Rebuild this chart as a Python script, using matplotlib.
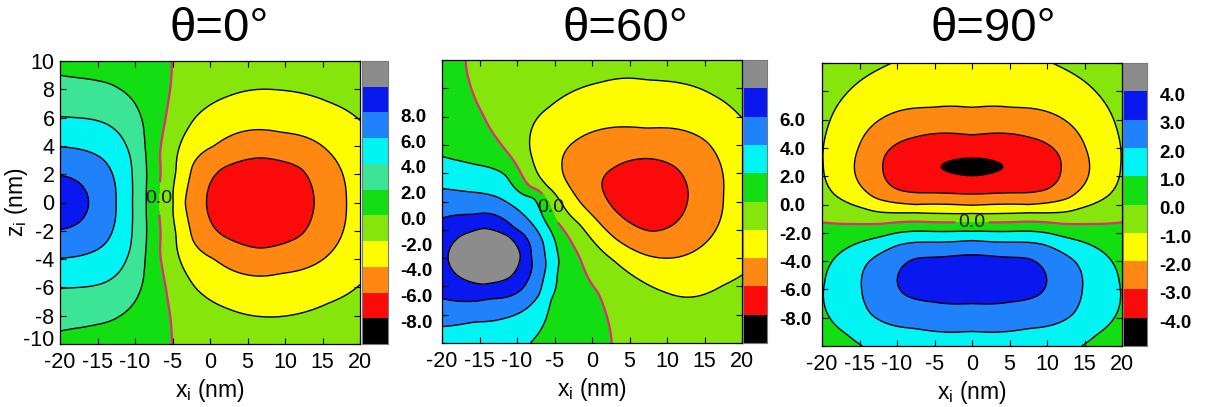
import numpy as np
import matplotlib
matplotlib.use("Agg")
import matplotlib.pyplot as plt
from matplotlib.colors import ListedColormap, BoundaryNorm
from matplotlib.transforms import ScaledTranslation

plt.rcParams.update({
    "font.family": ["Liberation Sans", "DejaVu Sans"],
    "axes.unicode_minus": False,
    "mathtext.default": "regular",
    "contour.negative_linestyle": "solid",
})

# ---------------------------------------------------------------------------
# Field samples (x_i, z_i, value) for each tilt angle: points on the contour
# lines, plus the peak values and a few edge values.
# ---------------------------------------------------------------------------
theta0_samples = [
    (-20.0, 0.0, 9.2), (6.7, 0.0, -7.2),
    (-20.0, 1.9, 8), (-18.2, 1.65, 8), (-16.8, 1.0, 8), (-16.2, 0.0, 8),
    (-16.8, -1.0, 8), (-18.2, -1.65, 8), (-20.0, -1.9, 8),
    (-20.0, 3.94, 6), (-16.0, 3.55, 6), (-13.6, 2.65, 6), (-12.6, 1.2, 6), (-12.5, 0.0, 6),
    (-12.6, -1.2, 6), (-13.6, -2.65, 6), (-16.0, -3.55, 6), (-20.0, -3.94, 6),
    (-20.0, 6.07, 4), (-14.0, 5.6, 4), (-11.8, 4.65, 4), (-10.6, 3.2, 4), (-10.35, 0.0, 4),
    (-10.6, -3.2, 4), (-11.8, -4.7, 4), (-14.0, -5.65, 4), (-20.0, -6.07, 4),
    (-20.0, 9.0, 2), (-15.0, 8.6, 2), (-12.0, 8.0, 2), (-10.0, 7.0, 2), (-8.9, 5.5, 2),
    (-8.5, 3.0, 2), (-8.45, 0.0, 2), (-8.5, -3.0, 2), (-8.9, -5.5, 2), (-10.0, -7.0, 2),
    (-12.0, -8.0, 2), (-15.0, -8.6, 2), (-20.0, -9.1, 2),
    (-5.1, 10.0, 0), (-5.3, 8.0, 0), (-6.0, 5.7, 0), (-6.7, 3.4, 0), (-7.0, 0.0, 0),
    (-6.7, -3.4, 0), (-6.0, -5.7, 0), (-5.3, -8.0, 0), (-5.1, -10.0, 0),
    (-4.8, 0.0, -2), (-4.5, 2.2, -2), (-3.6, 4.6, -2), (-2.0, 6.0, -2), (2.4, 7.5, -2),
    (9.1, 7.95, -2), (15.8, 7.1, -2), (20.0, 5.8, -2), (-4.5, -2.2, -2), (-3.6, -4.6, -2),
    (-2.0, -6.0, -2), (2.4, -7.5, -2), (7.0, -8.07, -2), (15.8, -7.1, -2), (20.0, -5.8, -2),
    (-3.4, 0.0, -4), (-2.4, 2.6, -4), (0.5, 3.95, -4), (4.9, 5.07, -4), (9.5, 4.95, -4),
    (15.8, 3.6, -4), (18.2, 0.0, -4), (15.8, -3.7, -4), (9.5, -5.0, -4), (4.9, -5.1, -4),
    (0.5, -3.95, -4), (-2.4, -2.6, -4),
    (-0.44, 0.0, -6), (1.56, 2.4, -6), (6.7, 3.17, -6), (12.2, 2.4, -6), (13.9, 0.0, -6),
    (12.2, -2.3, -6), (6.7, -3.24, -6), (1.56, -2.3, -6),
    (-20.0, 10.0, 1.5), (-12.0, 10.0, 1.3), (-20.0, -10.0, 1.5), (-12.0, -10.0, 1.3),
    (0.0, 10.0, -0.8), (8.0, 10.0, -1.3), (20.0, 10.0, -1.0), (0.0, -10.0, -0.8),
    (8.0, -10.0, -1.3), (20.0, -10.0, -1.0), (20.0, 0.0, -3.2),
]

theta60_samples = [
    (-14.3, -3.9, 9.0), (7.0, 0.5, -7.2),
    (-19.16, -3.8, 8), (-17.5, -2.4, 8), (-14.5, -1.85, 8), (-11.0, -2.4, 8), (-9.37, -3.8, 8),
    (-11.0, -5.4, 8), (-14.5, -5.9, 8), (-17.5, -5.4, 8),
    (-20.0, -1.19, 6), (-15.8, -0.95, 6), (-10.5, -1.9, 6), (-8.27, -3.8, 6), (-8.7, -5.67, 6),
    (-13.6, -6.84, 6), (-20.0, -6.84, 6),
    (-20.0, 0.93, 4), (-13.6, 0.46, 4), (-9.16, -0.95, 4), (-6.5, -2.84, 4), (-6.04, -4.5, 4),
    (-6.93, -6.6, 4), (-11.37, -8.2, 4), (-15.8, -8.5, 4), (-20.0, -8.85, 4),
    (-20.0, 3.17, 2), (-15.5, 2.6, 2), (-11.4, 1.87, 2), (-7.6, 0.4, 2), (-5.6, -1.9, 2),
    (-4.7, -3.43, 2), (-4.7, -5.0, 2), (-5.6, -6.96, 2), (-8.27, -10.0, 2),
    (-16.93, 10.0, 0), (-14.49, 6.11, 0), (-11.37, 3.52, 0), (-8.27, 0.93, 0), (-4.8, -1.4, 0),
    (-1.6, -3.95, 0), (0.85, -6.4, 0), (2.63, -10.0, 0),
    (-5.6, 6.7, -2), (-8.27, 3.64, -2), (-6.04, 1.05, -2), (-1.6, -1.6, -2), (2.84, -4.13, -2),
    (6.4, -5.55, -2), (9.5, -6.35, -2), (17.5, -5.9, -2), (20.0, -5.2, -2), (20.0, 5.88, -2),
    (16.2, 7.5, -2), (7.3, 8.59, -2), (1.0, 8.4, -2),
    (-3.96, 2.46, -4), (-2.04, 4.35, -4), (7.29, 5.17, -4), (15.3, 4.23, -4), (17.5, 0.46, -4),
    (15.3, -2.84, -4), (9.5, -4.0, -4), (3.3, -2.7, -4), (-1.2, -0.3, -4),
    (1.29, 1.17, -6), (2.84, 2.34, -6), (7.29, 3.05, -6), (11.3, 2.34, -6), (12.84, 0.5, -6),
    (11.3, -1.43, -6), (7.73, -2.1, -6), (2.84, -0.5, -6),
    (-20.0, 10.0, 1.0), (-20.0, -10.0, 3.0), (-13.0, -10.0, 3.0), (-3.0, -10.0, 1.0),
    (10.0, -10.0, -1.2), (20.0, -10.0, -1.0), (20.0, 10.0, -1.0), (-8.0, 10.0, -0.8),
    (5.0, 10.0, -1.6), (20.0, 0.5, -3.2),
]

theta90_samples = [
    (0.0, 2.64, -4.15), (0.0, -5.24, 3.7),
    (-4.3, 2.64, -4), (-1.4, 3.25, -4), (1.4, 3.25, -4), (4.3, 2.64, -4), (1.4, 2.08, -4),
    (-1.4, 2.08, -4),
    (0.0, 4.9, -3), (-7.6, 4.75, -3), (7.6, 4.75, -3), (-11.6, 3.5, -3), (11.6, 3.5, -3),
    (-11.8, 2.32, -3), (11.8, 2.32, -3), (-9.83, 1.02, -3), (9.83, 1.02, -3),
    (-3.16, 0.79, -3), (3.16, 0.79, -3), (0.0, 0.76, -3),
    (0.0, 6.85, -2), (-5.4, 6.85, -2), (5.4, 6.85, -2), (-12.0, 6.09, -2), (12.0, 6.09, -2),
    (-15.16, 3.97, -2), (15.16, 3.97, -2), (-15.6, 2.2, -2), (15.6, 2.2, -2),
    (-12.93, 0.44, -2), (12.93, 0.44, -2), (-7.6, -0.04, -2), (7.6, -0.04, -2), (0.0, -0.1, -2),
    (-10.7, 10.0, -1), (10.7, 10.0, -1), (-16.5, 7.97, -1), (16.5, 7.97, -1),
    (-19.4, 5.15, -1), (19.4, 5.15, -1), (-19.8, 2.79, -1), (19.8, 2.79, -1),
    (-18.3, 0.67, -1), (18.3, 0.67, -1), (-14.3, -0.27, -1), (14.3, -0.27, -1),
    (-7.6, -0.55, -1), (7.6, -0.55, -1), (0.0, -0.6, -1),
    (-20.0, -1.25, 0), (-10.0, -1.25, 0), (0.0, -1.25, 0), (10.0, -1.25, 0), (20.0, -1.25, 0),
    (0.0, -1.92, 1), (-12.04, -2.27, 1), (12.04, -2.27, 1), (-17.4, -3.34, 1), (17.4, -3.34, 1),
    (-19.6, -5.46, 1), (19.6, -5.46, 1), (-19.2, -7.81, 1), (19.2, -7.81, 1),
    (-16.5, -9.22, 1), (16.5, -9.22, 1), (-14.6, -10.0, 1), (14.6, -10.0, 1),
    (0.0, -2.51, 2), (-9.83, -2.86, 2), (9.83, -2.86, 2), (-13.8, -4.04, 2), (13.8, -4.04, 2),
    (-14.7, -5.92, 2), (14.7, -5.92, 2), (-13.4, -7.81, 2), (13.4, -7.81, 2),
    (-7.6, -8.75, 2), (7.6, -8.75, 2), (0.0, -8.95, 2),
    (0.0, -3.57, 3), (-7.6, -3.8, 3), (7.6, -3.8, 3), (-9.83, -4.98, 3), (9.83, -4.98, 3),
    (-8.93, -6.4, 3), (8.93, -6.4, 3), (-5.37, -6.87, 3), (5.37, -6.87, 3), (0.0, -6.98, 3),
    (-20.0, 10.0, -0.5), (20.0, 10.0, -0.5), (0.0, 10.0, -1.5),
    (-20.0, -10.0, 0.6), (20.0, -10.0, 0.6), (0.0, -10.0, 1.6),
]

titles = ["\u03b8=0\u00b0", "\u03b8=60\u00b0", "\u03b8=90\u00b0"]

levels_0 = [-8, -6, -4, -2, 0, 2, 4, 6, 8, 10]
levels_60 = [-8, -6, -4, -2, 0, 2, 4, 6, 8]
levels_90 = [-4, -3, -2, -1, 0, 1, 2, 3, 4]

ticks_0 = [-8, -6, -4, -2, 0, 2, 4, 6, 8]
ticks_60 = [-8, -6, -4, -2, 0, 2, 4, 6]
ticks_90 = [-4, -3, -2, -1, 0, 1, 2, 3, 4]

# band colours from the lowest band to the highest
BLACK, RED, ORANGE, YELLOW = "#000000", "#fb0a0a", "#ff8812", "#fdfd00"
LGREEN, GREEN, MINT, CYAN = "#86e60c", "#12de12", "#3ce596", "#00f4f4"
MBLUE, BLUE, GRAY = "#1f82fa", "#0818ee", "#8c8c8c"
bands_0 = [BLACK, RED, ORANGE, YELLOW, LGREEN, GREEN, MINT, CYAN, MBLUE, BLUE, GRAY]
bands_60 = [BLACK, RED, ORANGE, YELLOW, LGREEN, GREEN, CYAN, MBLUE, BLUE, GRAY]
bands_90 = [BLACK, RED, ORANGE, YELLOW, LGREEN, GREEN, CYAN, MBLUE, BLUE, GRAY]

ZERO_COLOR = "#e8287a"


def smooth_field(samples, gx, gz, stretch=1.887, smooth=1.5):
    """Smoothing thin-plate spline surface through the (x, z, value) samples."""
    s = np.asarray(samples, dtype=float)
    sx, sz, sv = s[:, 0], s[:, 1] * stretch, s[:, 2]
    n = len(sv)

    def kern(r):
        return np.where(r > 0, r * r * np.log(np.maximum(r, 1e-12)), 0.0)

    r = np.hypot(sx[:, None] - sx[None, :], sz[:, None] - sz[None, :])
    A = np.zeros((n + 3, n + 3))
    A[:n, :n] = kern(r) + smooth * np.eye(n)
    P = np.column_stack([np.ones(n), sx, sz])
    A[:n, n:] = P
    A[n:, :n] = P.T
    coef = np.linalg.solve(A, np.concatenate([sv, np.zeros(3)]))
    w, a = coef[:n], coef[n:]
    X, Z = np.meshgrid(gx, gz * stretch)
    F = a[0] + a[1] * X + a[2] * Z
    for xi, zi, wi in zip(sx, sz, w):
        F += wi * kern(np.hypot(X - xi, Z - zi))
    return F


W, H = 1214, 407
fig = plt.figure(figsize=(W / 100, H / 100), dpi=100)


def px_axes(left, top, right, bottom):
    return fig.add_axes([left / W, 1 - bottom / H, (right - left) / W, (bottom - top) / H])


panels = [
    dict(samples=theta0_samples, levels=levels_0, bands=bands_0, ticks=ticks_0,
         box=(60, 61, 360, 344), cbox=(362, 61, 388, 344), label_at=(-7.0, 0.3),
         title_x=219, show_y=True),
    dict(samples=theta60_samples, levels=levels_60, bands=bands_60, ticks=ticks_60,
         box=(442, 60, 742, 343), cbox=(743, 60, 767, 343), label_at=(-6.0, -0.55),
         title_x=625, show_y=False),
    dict(samples=theta90_samples, levels=levels_90, bands=bands_90, ticks=ticks_90,
         box=(822, 63, 1122, 346), cbox=(1123, 63, 1147, 346), label_at=(0.0, -1.25),
         title_x=993, show_y=False),
]

gx = np.linspace(-20, 20, 321)
gz = np.linspace(-10, 10, 161)

for p, title in zip(panels, titles):
    ax = px_axes(*p["box"])
    F = smooth_field(p["samples"], gx, gz)
    lv = p["levels"]
    ax.contourf(gx, gz, F, levels=[-1e3] + lv + [1e3], colors=p["bands"])
    ax.contour(gx, gz, F, levels=[v for v in lv if v != 0], colors="k",
               linewidths=1.0, linestyles="solid")
    cs0 = ax.contour(gx, gz, F, levels=[0], colors=ZERO_COLOR, linewidths=1.6)
    labels = ax.clabel(cs0, fmt={0: "0.0"}, manual=[p["label_at"]], inline=True,
                       inline_spacing=3, fontsize=14, colors="#1a1a1a")
    for t in labels:
        t.set_rotation(0)

    ax.set_xlim(-20, 20)
    ax.set_ylim(-10, 10)
    ax.set_xticks(range(-20, 21, 5))
    ax.set_yticks(range(-10, 11, 2))
    ax.tick_params(direction="in", top=True, right=True, length=4, width=0.8,
                   labelsize=15.5)
    ax.tick_params(axis="x", pad=5.5)
    ax.tick_params(axis="y", pad=4)
    for sp in ax.spines.values():
        sp.set_linewidth(0.9)
    ax.set_xlabel("$x_i$ (nm)", fontsize=16.5)
    ax.xaxis.set_label_coords(0.5, -0.117)
    ax.xaxis.label.set_va("top")
    if p["show_y"]:
        ax.set_ylabel("$z_i$ (nm)", fontsize=16.5)
        ax.yaxis.set_label_coords(-0.10, 0.5)
        # lift the lowest z label a little so it clears the first x label
        low = ax.yaxis.get_major_ticks()[0].label1
        low.set_transform(low.get_transform()
                          + ScaledTranslation(0, 6 / 100, fig.dpi_scale_trans))
    else:
        ax.tick_params(labelleft=False)

    # colour bar: one equal-height band per colour, labels just under the band edges
    cax = px_axes(*p["cbox"])
    nb = len(p["bands"])
    cax.pcolormesh([0, 1], np.arange(nb + 1), np.arange(nb).reshape(-1, 1),
                   cmap=ListedColormap(p["bands"]),
                   norm=BoundaryNorm(np.arange(nb + 1) - 0.5, nb), shading="flat")
    cax.set_xlim(0, 1)
    cax.set_ylim(0, nb)
    cax.set_xticks([])
    cax.yaxis.tick_right()
    cax.set_yticks([lv.index(v) + 1 - 0.12 for v in p["ticks"]])
    cax.set_yticklabels([f"{v:.1f}" for v in p["ticks"]], fontweight="bold", fontsize=13.5)
    cax.tick_params(axis="y", length=0, pad=9)
    for sp in cax.spines.values():
        sp.set_color("#7a7a7a")
        sp.set_linewidth(0.8)

    fig.text(p["title_x"] / W, 1 - 41 / H, title, ha="center", va="baseline", fontsize=34)

fig.savefig("out.png", dpi=100)
